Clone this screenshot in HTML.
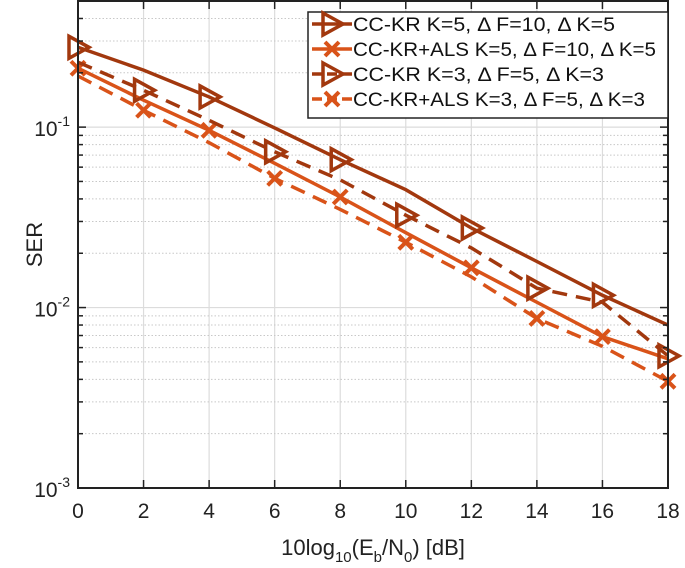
<!DOCTYPE html>
<html><head><meta charset="utf-8">
<style>
body{margin:0;background:#fff;}
svg{display:block;font-family:"Liberation Sans",Arial,sans-serif;}
</style></head>
<body>
<svg id="chart" width="685" height="568" viewBox="0 0 685 568">
<g id="grid"></g>
<g id="series"></g>
<g id="axes"></g>
<g id="legend"></g>
</svg>
<script>
const xs = [0,2,4,6,8,10,12,14,16,18];
const s1 = [0.277,0.207,0.147,0.099,0.066,0.045,0.0276,0.018,0.0117,0.008];
const s2 = [0.212,0.141,0.096,0.063,0.041,0.026,0.0166,0.0107,0.0069,0.0052];
const s3 = [0.229,0.160,0.109,0.073,0.051,0.0325,0.0214,0.0128,0.0107,0.0054];
const s4 = [0.192,0.124,0.082,0.052,0.035,0.023,0.0148,0.0087,0.0061,0.0039];
const xTicks = [0,2,4,6,8,10,12,14,16,18];
const yDecades = [-3,-2,-1];
const names = ["CC-KR K=5, \u0394 F=10, \u0394 K=5","CC-KR+ALS K=5, \u0394 F=10, \u0394 K=5","CC-KR K=3, \u0394 F=5, \u0394 K=3","CC-KR+ALS K=3, \u0394 F=5, \u0394 K=3"];
const nameLen = [262,303,251,292];

const L=78,R=668,T=1,B=488;
const yMin=-3,yMax=Math.log10(0.5);
const X=v=>L+(v-0)/(18-0)*(R-L);
const Y=v=>B-(Math.log10(v)-yMin)/(yMax-yMin)*(B-T);
const NS="http://www.w3.org/2000/svg";
function mk(tag,attrs,parent){const e=document.createElementNS(NS,tag);for(const k in attrs)e.setAttribute(k,attrs[k]);parent.appendChild(e);return e;}
const grid=document.getElementById('grid'),axes=document.getElementById('axes'),ser=document.getElementById('series'),leg=document.getElementById('legend');

xTicks.forEach(t=>{const l=mk('line',{x1:X(t),x2:X(t),y1:T,y2:B,stroke:'#dcdcdc','stroke-width':1.2},grid);

});
for(let d=-3;d<0;d++){for(let m=1;m<10;m++){const v=m*Math.pow(10,d);if(v>0.5)break;const y=Y(v);
const l=mk('line',{x1:L,x2:R,y1:y,y2:y,stroke:m==1?'#dcdcdc':'#c8c8c8','stroke-width':m==1?1.2:1,'stroke-dasharray':m==1?'':'1.5,2'},grid);


if(d>-3||m>1){const tk=mk('line',{x1:L,x2:L+(m==1?8:5),y1:y,y2:y,stroke:'#222','stroke-width':1.5},axes);


const tk2=mk('line',{x1:R,x2:R-(m==1?8:5),y1:y,y2:y,stroke:'#222','stroke-width':1.5},axes);

}}}

const dark='#a2380e',orange='#d95319';
const specs=[[s1,dark,'',0,'tri','series-cckr-k5'],[s2,orange,'',0,'x','series-cckr-als-k5'],[s3,dark,'15,9',2,'tri','series-cckr-k3'],[s4,orange,'15,9',2,'x','series-cckr-als-k3']];
function marker(type,x,y,col,parent){
 if(type==='tri'){const p=mk('path',{d:`M${x-9},${y-11} L${x+11},${y} L${x-9},${y+11} Z`,fill:'none',stroke:col,'stroke-width':3.5},parent);}
 else{const p=mk('path',{d:`M${x-7},${y-7} L${x+7},${y+7} M${x-7},${y+7} L${x+7},${y-7}`,stroke:col,'stroke-width':4},parent);}
}
specs.forEach(([d,col,dash,off,mt,nm])=>{
 const g=mk('g',{},ser);
 
 
 const pl=mk('polyline',{points:xs.map((x,i)=>X(x)+','+Y(d[i])).join(' '),fill:'none',stroke:col,'stroke-width':3.5,'stroke-dasharray':dash},g);
 
 
 xs.forEach((x,i)=>{if((x-off)%4===0)marker(mt,X(x),Y(d[i]),col,g);});
});

const box=mk('rect',{x:L,y:T,width:R-L,height:B-T,fill:'none',stroke:'#222','stroke-width':2},axes);


xTicks.forEach(t=>{
 const a=mk('line',{x1:X(t),x2:X(t),y1:B,y2:B-8,stroke:'#222','stroke-width':1.5},axes);
 
 
 const b=mk('line',{x1:X(t),x2:X(t),y1:T,y2:T+8,stroke:'#222','stroke-width':1.5},axes);
 
 
 const tx=mk('text',{x:X(t),y:B+30,'text-anchor':'middle','font-size':21,fill:'#222'},axes);tx.textContent=t;
 
 
});
yDecades.forEach(d=>{const y=Y(Math.pow(10,d));
 const tx=mk('text',{x:L-8,y:y+9,'text-anchor':'end','font-size':21,fill:'#222'},axes);
 tx.innerHTML='10<tspan dy="-10" font-size="14">'+d+'</tspan>';
 
 });
const xl=mk('text',{x:(L+R)/2,y:555,'text-anchor':'middle','font-size':22,fill:'#222'},axes);
xl.innerHTML='10log<tspan dy="7" font-size="15">10</tspan><tspan dy="-7">(E</tspan><tspan dy="7" font-size="15">b</tspan><tspan dy="-7">/N</tspan><tspan dy="7" font-size="15">0</tspan><tspan dy="-7">) [dB]</tspan>';


const yl=mk('text',{x:0,y:0,'text-anchor':'middle','font-size':22,fill:'#222',transform:`translate(42,${(T+B)/2}) rotate(-90)`},axes);
yl.textContent='SER';



const lb=mk('rect',{x:308,y:12,width:360,height:106,fill:'#fff',stroke:'#222','stroke-width':1.5},leg);


const ly=[24,49,74,99];
specs.forEach(([d,col,dash,off,mt],i)=>{
 const g=mk('g',{},leg);
 
 
 mk('line',{x1:312,x2:352,y1:ly[i],y2:ly[i],stroke:col,'stroke-width':3.5,'stroke-dasharray':dash?'10,5':''},g);
 marker(mt,332,ly[i],col,g);
 const t=mk('text',{x:353,y:ly[i]+7,'font-size':19.5,fill:'#111',textLength:nameLen[i],lengthAdjust:'spacingAndGlyphs'},g);t.textContent=names[i];
 
 
});
</script>
</body></html>
